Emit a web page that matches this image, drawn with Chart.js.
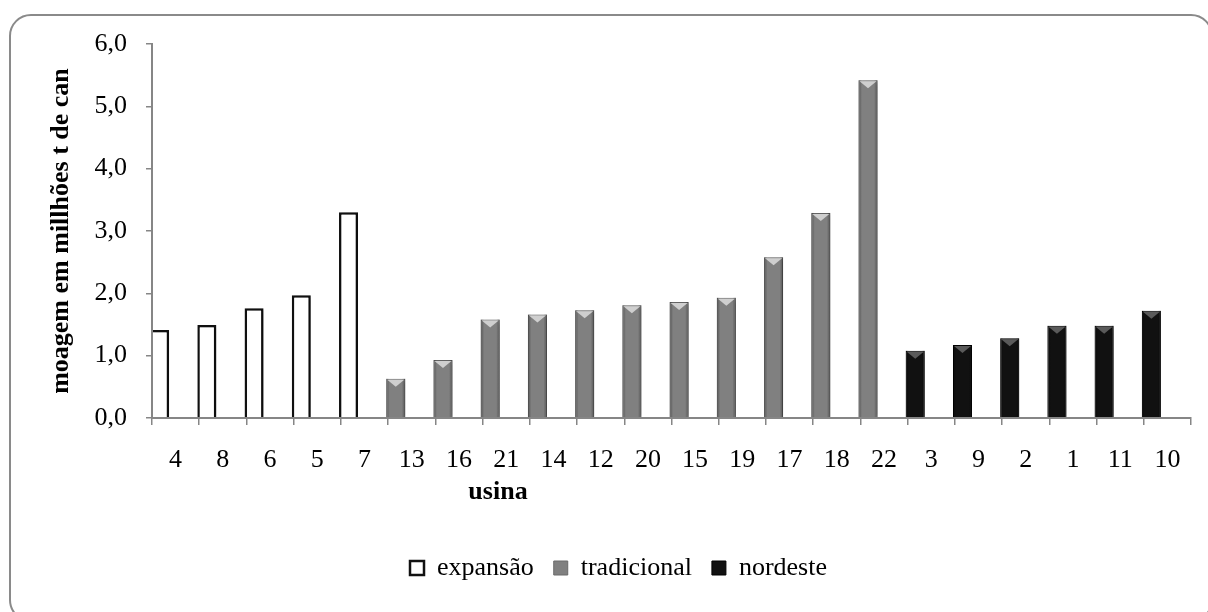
<!DOCTYPE html>
<html>
<head>
<meta charset="utf-8">
<script src="https://cdn.jsdelivr.net/npm/chart.js@4.4.1/dist/chart.umd.min.js"></script>
<style>
  html, body { margin: 0; padding: 0; background: #fff; overflow: hidden; }
  #wrap { position: relative; width: 1208px; height: 612px; overflow: hidden; }
  #frame { position: absolute; left: 9px; top: 14px; width: 1200px; height: 604px;
           border: 2px solid #8a8a8a; border-radius: 22px; }
  #chart { position: absolute; left: 0; top: 0; }
</style>
</head>
<body>
<div id="wrap">
  <div id="frame"></div>
  <canvas id="chart" width="1208" height="612"></canvas>
</div>
<script>
'use strict';

// usinas, na ordem do eixo
const usinas = ['4', '8', '6', '5', '7', '13', '16', '21', '14', '12', '20', '15', '19', '17', '18', '22', '3', '9', '2', '1', '11', '10'];

// moagem (milhões t de cana) por grupo
const usinasExpansao = ['4', '8', '6', '5', '7'];
const moagemExpansao = [1.41, 1.49, 1.76, 1.97, 3.30];

const usinasTradicional = ['13', '16', '21', '14', '12', '20', '15', '19', '17', '18', '22'];
const moagemTradicional = [0.63, 0.93, 1.58, 1.66, 1.73, 1.81, 1.86, 1.93, 2.58, 3.29, 5.42];

const usinasNordeste = ['3', '9', '2', '1', '11', '10'];
const moagemNordeste = [1.08, 1.17, 1.28, 1.48, 1.48, 1.72];

const yTicks = [0, 1, 2, 3, 4, 5, 6];

const FONT = "'Liberation Serif', 'Times New Roman', serif";
const AXIS_GREY = '#868686';

// espalha os valores de um grupo pelas 22 categorias
const serie = (nomes, valores) => usinas.map(u => {
	const i = nomes.indexOf(u);
	return i === -1 ? null : valores[i];
});

const fmt = v => v.toFixed(1).replace('.', ',');

// chanfro no topo das barras e sombreado lateral
const bevel = {
	id: 'bevel',
	beforeDatasetsDraw(chart) {
		const ctx = chart.ctx;
		ctx.save();
		ctx.shadowColor = 'rgba(0,0,0,0.28)';
		ctx.shadowBlur = 5;
		ctx.shadowOffsetX = 3;
		ctx.shadowOffsetY = 1;
	},
	afterDatasetsDraw(chart) {
		const ctx = chart.ctx;
		ctx.restore();
		chart.data.datasets.forEach((ds, i) => {
			if (!ds.chevron) return;
			const meta = chart.getDatasetMeta(i);
			meta.data.forEach((bar, j) => {
				if (ds.data[j] === null) return;
				const {x, y, base, width} = bar.getProps(['x', 'y', 'base', 'width'], true);
				const l = x - width / 2, r = x + width / 2;
				const g = ctx.createLinearGradient(l, 0, r, 0);
				g.addColorStop(0, 'rgba(0,0,0,0.35)');
				g.addColorStop(0.18, 'rgba(0,0,0,0)');
				g.addColorStop(0.82, 'rgba(0,0,0,0)');
				g.addColorStop(1, 'rgba(0,0,0,0.35)');
				ctx.fillStyle = g;
				ctx.fillRect(l, y, width, base - y);
				ctx.beginPath();
				ctx.moveTo(l + 1, y + 1);
				ctx.lineTo(r - 1, y + 1);
				ctx.lineTo(x, y + width * 0.42);
				ctx.closePath();
				ctx.fillStyle = ds.chevron;
				ctx.fill();
			});
		});
	}
};

// título do eixo x, deslocado para a esquerda como no gráfico original
const xTitle = {
	id: 'xTitle',
	afterDraw(chart) {
		const {ctx, chartArea} = chart;
		ctx.save();
		ctx.font = 'bold 26px ' + FONT;
		ctx.fillStyle = '#000';
		ctx.textAlign = 'center';
		ctx.textBaseline = 'middle';
		ctx.fillText('usina', chartArea.left + 346, chartArea.bottom + 74);
		ctx.restore();
	}
};

const ctx = document.getElementById('chart').getContext('2d');
const myChart = new Chart(ctx, {
	type: 'bar',
	data: {
		labels: usinas,
		datasets: [
			{
				label: 'expansão',
				data: serie(usinasExpansao, moagemExpansao),
				backgroundColor: '#ffffff',
				borderColor: '#111111',
				borderWidth: 2.5,
				stack: 'a',
			},
			{
				label: 'tradicional',
				data: serie(usinasTradicional, moagemTradicional),
				backgroundColor: '#808080',
				borderColor: '#6a6a6a',
				borderWidth: 1,
				stack: 'a',
				chevron: '#cfcfcf',
			},
			{
				label: 'nordeste',
				data: serie(usinasNordeste, moagemNordeste),
				backgroundColor: '#111111',
				borderColor: '#000000',
				borderWidth: 1,
				stack: 'a',
				chevron: '#5a5a5a',
			},
			// grupo vazio: desloca as barras para a esquerda da categoria
			{
				label: '',
				data: [],
				stack: 'b',
			},
		],
	},
	options: {
		responsive: false,
		animation: false,
		categoryPercentage: 1.355,
		barPercentage: 0.594,
		clip: {left: 0, top: false, right: false, bottom: 0},
		layout: {
			padding: {left: 46, right: 17, top: 44, bottom: 21},
		},
		scales: {
			x: {
				offset: true,
				grid: {offset: true, drawOnChartArea: false, tickLength: 7, color: AXIS_GREY, lineWidth: 1.5, z: 1},
				border: {color: AXIS_GREY, width: 2, z: 1},
				ticks: {color: '#000', padding: 20, maxRotation: 0, autoSkip: false, font: {family: FONT, size: 26}},
				afterFit: scale => { scale.height = 117; },
			},
			y: {
				min: 0,
				max: 6,
				grid: {drawOnChartArea: false, tickLength: 6, color: AXIS_GREY, lineWidth: 1.5, z: 1},
				border: {color: AXIS_GREY, width: 2, z: 1},
				afterBuildTicks: scale => { scale.ticks = yTicks.map(v => ({value: v})); },
				ticks: {color: '#000', padding: 19, callback: v => fmt(v), font: {family: FONT, size: 26}},
				title: {display: true, text: 'moagem em millhões t de can', color: '#000', padding: {top: 0, bottom: 0}, font: {family: FONT, size: 26, weight: 'bold'}},
				afterFit: scale => { scale.width = 106; },
			},
		},
		plugins: {
			tooltip: {enabled: false},
			legend: {
				position: 'bottom',
				labels: {
					color: '#000',
					boxWidth: 14,
					boxHeight: 14,
					padding: 20,
					font: {family: FONT, size: 26},
					filter: item => item.text !== '',
				},
			},
		},
	},
	plugins: [bevel, xTitle],
});
</script>
</body>
</html>
